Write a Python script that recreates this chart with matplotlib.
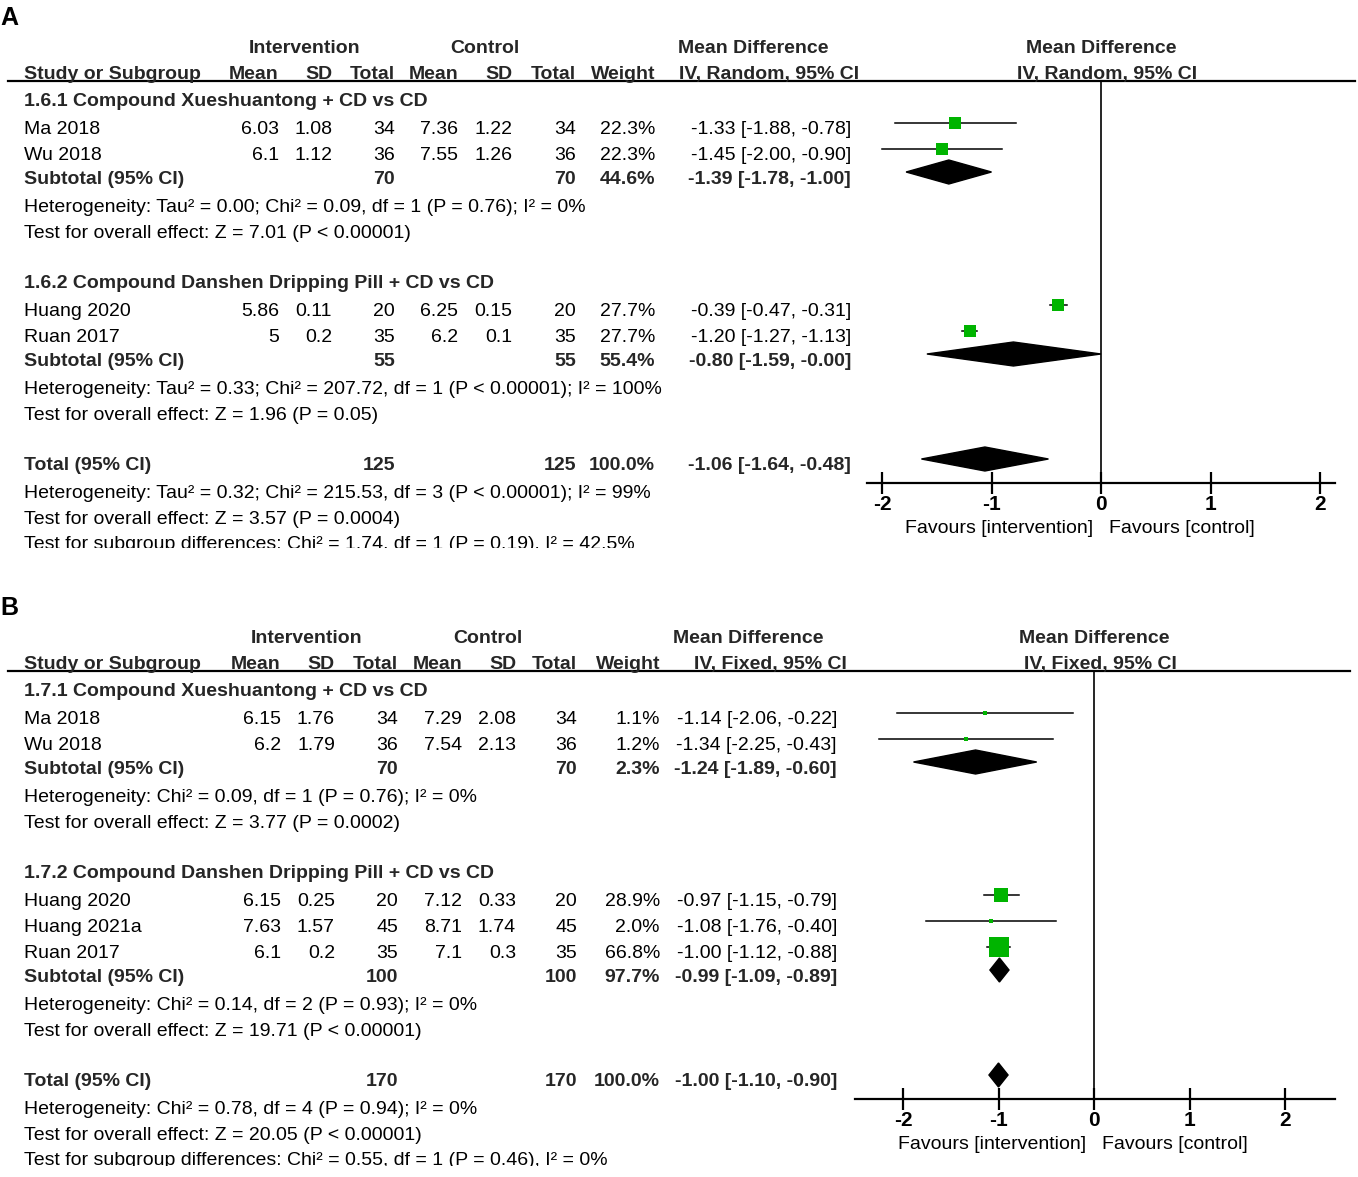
import matplotlib
matplotlib.use("Agg")
import matplotlib.pyplot as plt
from matplotlib.patches import Polygon, Rectangle

plt.rcParams['font.family'] = ['Liberation Sans', 'DejaVu Sans']

W, H = 1358, 1177
FS = 14
GREEN = '#00b400'
DARK = '#262626'

# ---------------- panel A data ----------------
a_group_titles = ["1.6.1 Compound Xueshuantong + CD vs CD",
                  "1.6.2 Compound Danshen Dripping Pill + CD vs CD"]
a_group_sizes = [2, 2]
a_studies = ["Ma 2018", "Wu 2018", "Huang 2020", "Ruan 2017"]
a_int_mean = [6.03, 6.1, 5.86, 5]
a_int_sd = [1.08, 1.12, 0.11, 0.2]
a_int_n = [34, 36, 20, 35]
a_ctl_mean = [7.36, 7.55, 6.25, 6.2]
a_ctl_sd = [1.22, 1.26, 0.15, 0.1]
a_ctl_n = [34, 36, 20, 35]
a_weight = [22.3, 22.3, 27.7, 27.7]
a_md = [-1.33, -1.45, -0.39, -1.20]
a_lo = [-1.88, -2.00, -0.47, -1.27]
a_hi = [-0.78, -0.90, -0.31, -1.13]
a_sub_n = [70, 55]
a_sub_w = [44.6, 55.4]
a_sub_md = [-1.39, -0.80]
a_sub_lo = [-1.78, -1.59]
a_sub_hi = [-1.00, -0.00]
a_het = ["Heterogeneity: Tau² = 0.00; Chi² = 0.09, df = 1 (P = 0.76); I² = 0%",
         "Heterogeneity: Tau² = 0.33; Chi² = 207.72, df = 1 (P < 0.00001); I² = 100%"]
a_test = ["Test for overall effect: Z = 7.01 (P < 0.00001)",
          "Test for overall effect: Z = 1.96 (P = 0.05)"]
a_tot = [-1.06, -1.64, -0.48]
a_tot_n = 125
a_tot_het = "Heterogeneity: Tau² = 0.32; Chi² = 215.53, df = 3 (P < 0.00001); I² = 99%"
a_tot_test = "Test for overall effect: Z = 3.57 (P = 0.0004)"
a_subgr = "Test for subgroup differences: Chi² = 1.74, df = 1 (P = 0.19), I² = 42.5%"

# ---------------- panel B data ----------------
b_group_titles = ["1.7.1 Compound Xueshuantong + CD vs CD",
                  "1.7.2 Compound Danshen Dripping Pill + CD vs CD"]
b_group_sizes = [2, 3]
b_studies = ["Ma 2018", "Wu 2018", "Huang 2020", "Huang 2021a", "Ruan 2017"]
b_int_mean = [6.15, 6.2, 6.15, 7.63, 6.1]
b_int_sd = [1.76, 1.79, 0.25, 1.57, 0.2]
b_int_n = [34, 36, 20, 45, 35]
b_ctl_mean = [7.29, 7.54, 7.12, 8.71, 7.1]
b_ctl_sd = [2.08, 2.13, 0.33, 1.74, 0.3]
b_ctl_n = [34, 36, 20, 45, 35]
b_weight = [1.1, 1.2, 28.9, 2.0, 66.8]
b_md = [-1.14, -1.34, -0.97, -1.08, -1.00]
b_lo = [-2.06, -2.25, -1.15, -1.76, -1.12]
b_hi = [-0.22, -0.43, -0.79, -0.40, -0.88]
b_sub_n = [70, 100]
b_sub_w = [2.3, 97.7]
b_sub_md = [-1.24, -0.99]
b_sub_lo = [-1.89, -1.09]
b_sub_hi = [-0.60, -0.89]
b_het = ["Heterogeneity: Chi² = 0.09, df = 1 (P = 0.76); I² = 0%",
         "Heterogeneity: Chi² = 0.14, df = 2 (P = 0.93); I² = 0%"]
b_test = ["Test for overall effect: Z = 3.77 (P = 0.0002)",
          "Test for overall effect: Z = 19.71 (P < 0.00001)"]
b_tot = [-1.00, -1.10, -0.90]
b_tot_n = 170
b_tot_het = "Heterogeneity: Chi² = 0.78, df = 4 (P = 0.94); I² = 0%"
b_tot_test = "Test for overall effect: Z = 20.05 (P < 0.00001)"
b_subgr = "Test for subgroup differences: Chi² = 0.55, df = 1 (P = 0.46), I² = 0%"

xticks = [-2, -1, 0, 1, 2]

fig = plt.figure(figsize=(W / 100, H / 100), dpi=100)
tx = fig.add_axes([0, 0, 1, 1])
tx.set_xlim(0, W)
tx.set_ylim(H, 0)
tx.axis('off')


def txt(x, y, s, ha='left', bold=False, color='black', size=FS, clip=None):
    t = tx.text(x, y + 7, s, ha=ha, va='baseline', fontsize=size,
                fontweight='bold' if bold else 'normal', color=color)
    if clip is not None:
        t.set_clip_on(True)
        t.set_clip_path(clip)
    return t


def layout_rows(top, sizes):
    y = top
    groups = []
    for n in sizes:
        g = {'title': y}
        g['studies'] = [y + 28 + 26 * i for i in range(n)]
        g['sub'] = g['studies'][-1] + 24
        g['het'] = g['sub'] + 28
        g['test'] = g['sub'] + 54
        y = g['test'] + 50
        groups.append(g)
    return groups, groups[-1]['test'] + 50


def draw_panel(letter, top, method, cols, heads_x, ci_right, zero_px, unit, ax_x0, ax_x1,
               line_x1, clip_bottom, titles, sizes, studies, im, isd, inn, cm, csd, cn,
               wt, md, lo, hi, sub_n, sub_w, sub_md, sub_lo, sub_hi, het, test,
               tot, tot_n, tot_het, tot_test, subgr):
    clip = Rectangle((0, top - 50), W, clip_bottom - (top - 50), transform=tx.transData)
    tx.text(0, top - 28, letter, ha='left', va='center', fontsize=18, fontweight='bold')
    # headers
    txt(heads_x[0], top, "Intervention", ha='center', bold=True, color=DARK)
    txt(heads_x[1], top, "Control", ha='center', bold=True, color=DARK)
    txt(heads_x[2], top, "Mean Difference", ha='center', bold=True, color=DARK)
    txt(zero_px, top, "Mean Difference", ha='center', bold=True, color=DARK)
    h2 = top + 26
    txt(24, h2, "Study or Subgroup", bold=True, color=DARK)
    for x, s in zip(cols, ["Mean", "SD", "Total", "Mean", "SD", "Total", "Weight"]):
        txt(x, h2, s, ha='right', bold=True, color=DARK)
    txt(heads_x[3], h2, method, ha='center', bold=True, color=DARK)
    txt(zero_px + 6, h2, method, ha='center', bold=True, color=DARK)
    line_y = top + 35
    tx.plot([8, line_x1], [line_y, line_y], color='black', lw=1.6)

    groups, total_y = layout_rows(top + 53, sizes)
    axis_y = total_y + 20
    fa = fig.add_axes([ax_x0 / W, 1 - axis_y / H, (ax_x1 - ax_x0) / W, (axis_y - line_y) / H])
    fa.set_xlim((ax_x0 - zero_px) / unit, (ax_x1 - zero_px) / unit)
    fa.set_ylim(axis_y, line_y)
    fa.patch.set_visible(False)
    for s in ['top', 'left', 'right']:
        fa.spines[s].set_visible(False)
    fa.spines['bottom'].set_linewidth(1.6)
    fa.set_yticks([])
    fa.set_xticks(xticks)
    fa.set_xticklabels([str(v) for v in xticks], fontsize=FS + 1, fontweight='bold')
    fa.tick_params(axis='x', direction='inout', length=16, width=1.6, pad=1)
    fa.axvline(0, color='black', lw=1.2)

    k = 0
    for gi, g in enumerate(groups):
        txt(24, g['title'], titles[gi], bold=True, color=DARK)
        for y in g['studies']:
            vals = [f"{im[k]:g}", f"{isd[k]:g}", str(inn[k]), f"{cm[k]:g}",
                    f"{csd[k]:g}", str(cn[k]), f"{wt[k]:.1f}%"]
            txt(24, y, studies[k])
            for x, s in zip(cols, vals):
                txt(x, y, s, ha='right')
            txt(ci_right, y, f"{md[k]:.2f} [{lo[k]:.2f}, {hi[k]:.2f}]", ha='right')
            my = y - 4
            fa.plot([lo[k], hi[k]], [my, my], color='black', lw=1.1, zorder=2)
            side = max((wt[k] ** 0.5) * 2.45, 4.0)
            fa.plot(md[k], my, marker='s', color=GREEN, ms=side * 0.72, mew=0, zorder=3)
            k += 1
        y = g['sub']
        txt(24, y, "Subtotal (95% CI)", bold=True, color=DARK)
        txt(cols[2], y, str(sub_n[gi]), ha='right', bold=True, color=DARK)
        txt(cols[5], y, str(sub_n[gi]), ha='right', bold=True, color=DARK)
        txt(cols[6], y, f"{sub_w[gi]:.1f}%", ha='right', bold=True, color=DARK)
        txt(ci_right, y, f"{sub_md[gi]:.2f} [{sub_lo[gi]:.2f}, {sub_hi[gi]:.2f}]",
            ha='right', bold=True, color=DARK)
        my = y - 5
        fa.add_patch(Polygon([(sub_lo[gi], my), (sub_md[gi], my - 12), (sub_hi[gi], my),
                              (sub_md[gi], my + 12)], closed=True, color='black', zorder=3))
        txt(24, g['het'], het[gi])
        txt(24, g['test'], test[gi])

    txt(24, total_y, "Total (95% CI)", bold=True, color=DARK)
    txt(cols[2], total_y, str(tot_n), ha='right', bold=True, color=DARK)
    txt(cols[5], total_y, str(tot_n), ha='right', bold=True, color=DARK)
    txt(cols[6], total_y, "100.0%", ha='right', bold=True, color=DARK)
    txt(ci_right, total_y, f"{tot[0]:.2f} [{tot[1]:.2f}, {tot[2]:.2f}]", ha='right',
        bold=True, color=DARK)
    my = total_y - 4
    fa.add_patch(Polygon([(tot[1], my), (tot[0], my - 12), (tot[2], my), (tot[0], my + 12)],
                         closed=True, color='black', zorder=3))
    txt(24, total_y + 28, tot_het)
    txt(24, total_y + 54, tot_test)
    txt(24, total_y + 79, subgr, clip=clip)
    txt(zero_px - 8, axis_y + 43, "Favours [intervention]", ha='right')
    txt(zero_px + 8, axis_y + 43, "Favours [control]")


draw_panel("A", 46, "IV, Random, 95% CI", [279, 332, 395, 458, 512, 576, 655],
           [305, 485, 753, 769], 851, 1101, 109.5, 867, 1335, 1355, 548,
           a_group_titles, a_group_sizes, a_studies, a_int_mean, a_int_sd, a_int_n,
           a_ctl_mean, a_ctl_sd, a_ctl_n, a_weight, a_md, a_lo, a_hi,
           a_sub_n, a_sub_w, a_sub_md, a_sub_lo, a_sub_hi, a_het, a_test,
           a_tot, a_tot_n, a_tot_het, a_tot_test, a_subgr)

draw_panel("B", 636, "IV, Fixed, 95% CI", [281, 335, 398, 462, 516, 577, 660],
           [307, 488, 748, 770], 837, 1094, 95.5, 855, 1335, 1350, 1166,
           b_group_titles, b_group_sizes, b_studies, b_int_mean, b_int_sd, b_int_n,
           b_ctl_mean, b_ctl_sd, b_ctl_n, b_weight, b_md, b_lo, b_hi,
           b_sub_n, b_sub_w, b_sub_md, b_sub_lo, b_sub_hi, b_het, b_test,
           b_tot, b_tot_n, b_tot_het, b_tot_test, b_subgr)

fig.savefig("out.png", dpi=100)
